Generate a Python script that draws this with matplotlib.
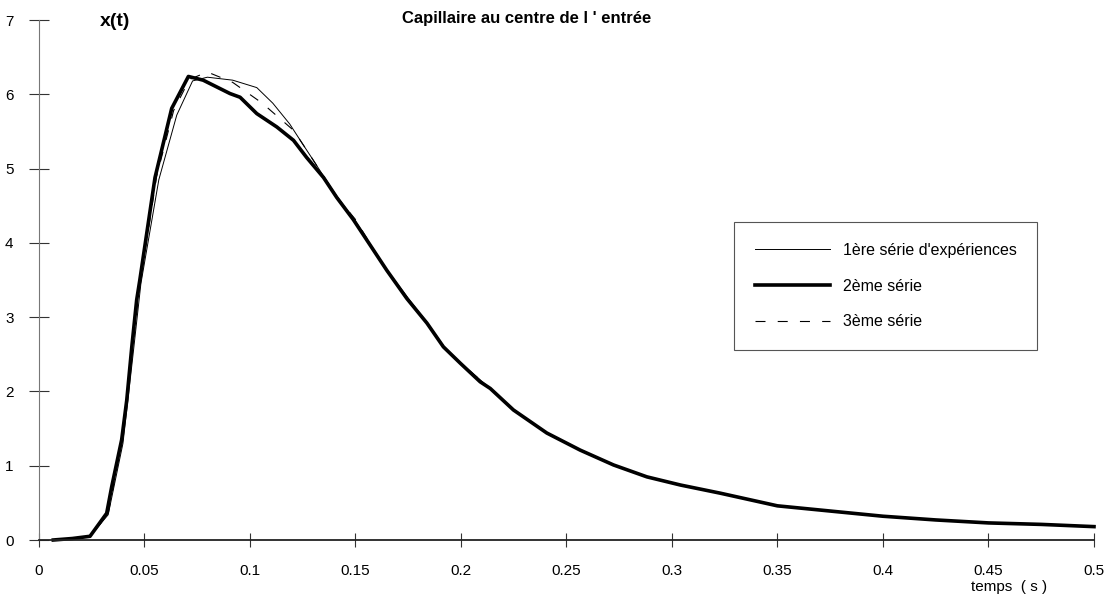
import matplotlib
matplotlib.use("Agg")
import matplotlib.pyplot as plt

# Capillaire au centre de l'entrée : x(t) pour trois séries
# série 2 (trait épais)
t2 = [0.007, 0.016, 0.0244, 0.0323, 0.0347, 0.0394, 0.0418, 0.0442, 0.0465, 0.048,
      0.0552, 0.0631, 0.0710, 0.078, 0.0907, 0.0955, 0.1034, 0.1129, 0.1208, 0.127,
      0.135, 0.1413, 0.1492, 0.165, 0.1745, 0.184, 0.1918, 0.1998, 0.2092, 0.214,
      0.225, 0.2408, 0.2566, 0.2724, 0.2882, 0.3041, 0.323, 0.35, 0.375, 0.40,
      0.425, 0.45, 0.475, 0.50]
x2 = [0.0, 0.02, 0.05, 0.36, 0.72, 1.35, 1.88, 2.6, 3.23, 3.5,
      4.88, 5.81, 6.24, 6.19, 6.01, 5.96, 5.74, 5.56, 5.38, 5.15,
      4.88, 4.61, 4.31, 3.63, 3.25, 2.92, 2.6, 2.38, 2.13, 2.04,
      1.75, 1.44, 1.21, 1.01, 0.85, 0.74, 0.63, 0.46, 0.39, 0.32,
      0.27, 0.23, 0.21, 0.18]

# série 1 (trait fin)
t1 = [0.007, 0.0244, 0.033, 0.040, 0.0448, 0.0485, 0.057, 0.0655, 0.073, 0.080,
      0.092, 0.1034, 0.111, 0.119, 0.124, 0.130, 0.135, 0.1413, 0.150, 0.165,
      0.175, 0.184, 0.192, 0.200, 0.214, 0.225, 0.2408, 0.2566, 0.2724, 0.2882,
      0.3041, 0.323, 0.35, 0.375, 0.40, 0.425, 0.45, 0.475, 0.50]
x1 = [0.0, 0.05, 0.34, 1.3, 2.5, 3.45, 4.85, 5.72, 6.18, 6.23,
      6.19, 6.09, 5.88, 5.6, 5.38, 5.12, 4.9, 4.63, 4.30, 3.64,
      3.26, 2.93, 2.61, 2.38, 2.04, 1.76, 1.44, 1.21, 1.01, 0.85,
      0.74, 0.63, 0.46, 0.39, 0.32, 0.27, 0.23, 0.21, 0.18]

# série 3 (tirets)
t3 = [0.007, 0.0244, 0.033, 0.0395, 0.0445, 0.048, 0.056, 0.064, 0.0715, 0.080,
      0.092, 0.106, 0.121, 0.130, 0.1413, 0.150, 0.165, 0.175, 0.184, 0.192,
      0.200, 0.214, 0.225, 0.2408, 0.2566, 0.2724, 0.2882, 0.3041, 0.323, 0.35,
      0.375, 0.40, 0.425, 0.45, 0.475, 0.50]
x3 = [0.0, 0.05, 0.35, 1.33, 2.55, 3.45, 4.9, 5.78, 6.2, 6.3,
      6.16, 5.88, 5.51, 5.12, 4.62, 4.32, 3.62, 3.25, 2.92, 2.6,
      2.38, 2.04, 1.75, 1.44, 1.21, 1.01, 0.85, 0.74, 0.63, 0.46,
      0.39, 0.32, 0.27, 0.23, 0.21, 0.18]

xticks = [0, 0.05, 0.1, 0.15, 0.2, 0.25, 0.3, 0.35, 0.4, 0.45, 0.5]
xtick_labels = ["0", "0.05", "0.1", "0.15", "0.2", "0.25", "0.3", "0.35", "0.4", "0.45", "0.5"]
yticks = [0, 1, 2, 3, 4, 5, 6, 7]

plt.rcParams["font.family"] = ["Liberation Sans", "DejaVu Sans"]

W, H = 1111, 598
fig = plt.figure(figsize=(W / 100, H / 100), dpi=100)
ax = fig.add_axes([38.5 / W, 1 - 540 / H, (1094 - 38.5) / W, 520 / H])

ax.plot(t1, x1, color="black", lw=0.7, label="1ère série d'expériences", clip_on=False)
ax.plot(t2, x2, color="black", lw=2.6, label="2ème série", clip_on=False)
ax.plot(t3, x3, color="black", lw=0.8, dashes=(9, 11), label="3ème série", clip_on=False)

ax.set_xlim(0, 0.5)
ax.set_ylim(0, 7)
for s in ["top", "right"]:
    ax.spines[s].set_visible(False)
ax.spines["left"].set_color("#777777")
ax.spines["left"].set_linewidth(0.8)
ax.spines["bottom"].set_color("#222222")
ax.spines["bottom"].set_linewidth(1.3)

ax.set_xticks(xticks)
ax.set_xticklabels(xtick_labels)
ax.set_yticks(yticks)
ax.tick_params(axis="y", direction="inout", length=14, width=0.8, color="#333333",
               pad=11, labelsize=11)
ax.tick_params(axis="x", direction="inout", length=10, width=0.8, color="#333333",
               pad=12, labelsize=11)

fig.text(100 / W, 1 - 22 / H, "x(t)", fontsize=14, fontweight="bold",
         ha="left", va="center")
fig.text(402 / W, 1 - 19 / H, "Capillaire au centre de l ' entrée", fontsize=12,
         fontweight="bold", ha="left", va="center")
fig.text(971 / W, 1 - 587 / H, "temps  ( s )", fontsize=11, ha="left", va="center")

leg = ax.legend(loc="upper left", bbox_to_anchor=(734 / W, 1 - 222 / H),
                bbox_transform=fig.transFigure, fancybox=False, framealpha=1,
                edgecolor="#555555", fontsize=11.5, handlelength=4.7,
                handletextpad=0.8, labelspacing=1.3, borderpad=1.3,
                borderaxespad=0)
leg.get_frame().set_linewidth(0.8)

fig.savefig("out.png", dpi=100)
